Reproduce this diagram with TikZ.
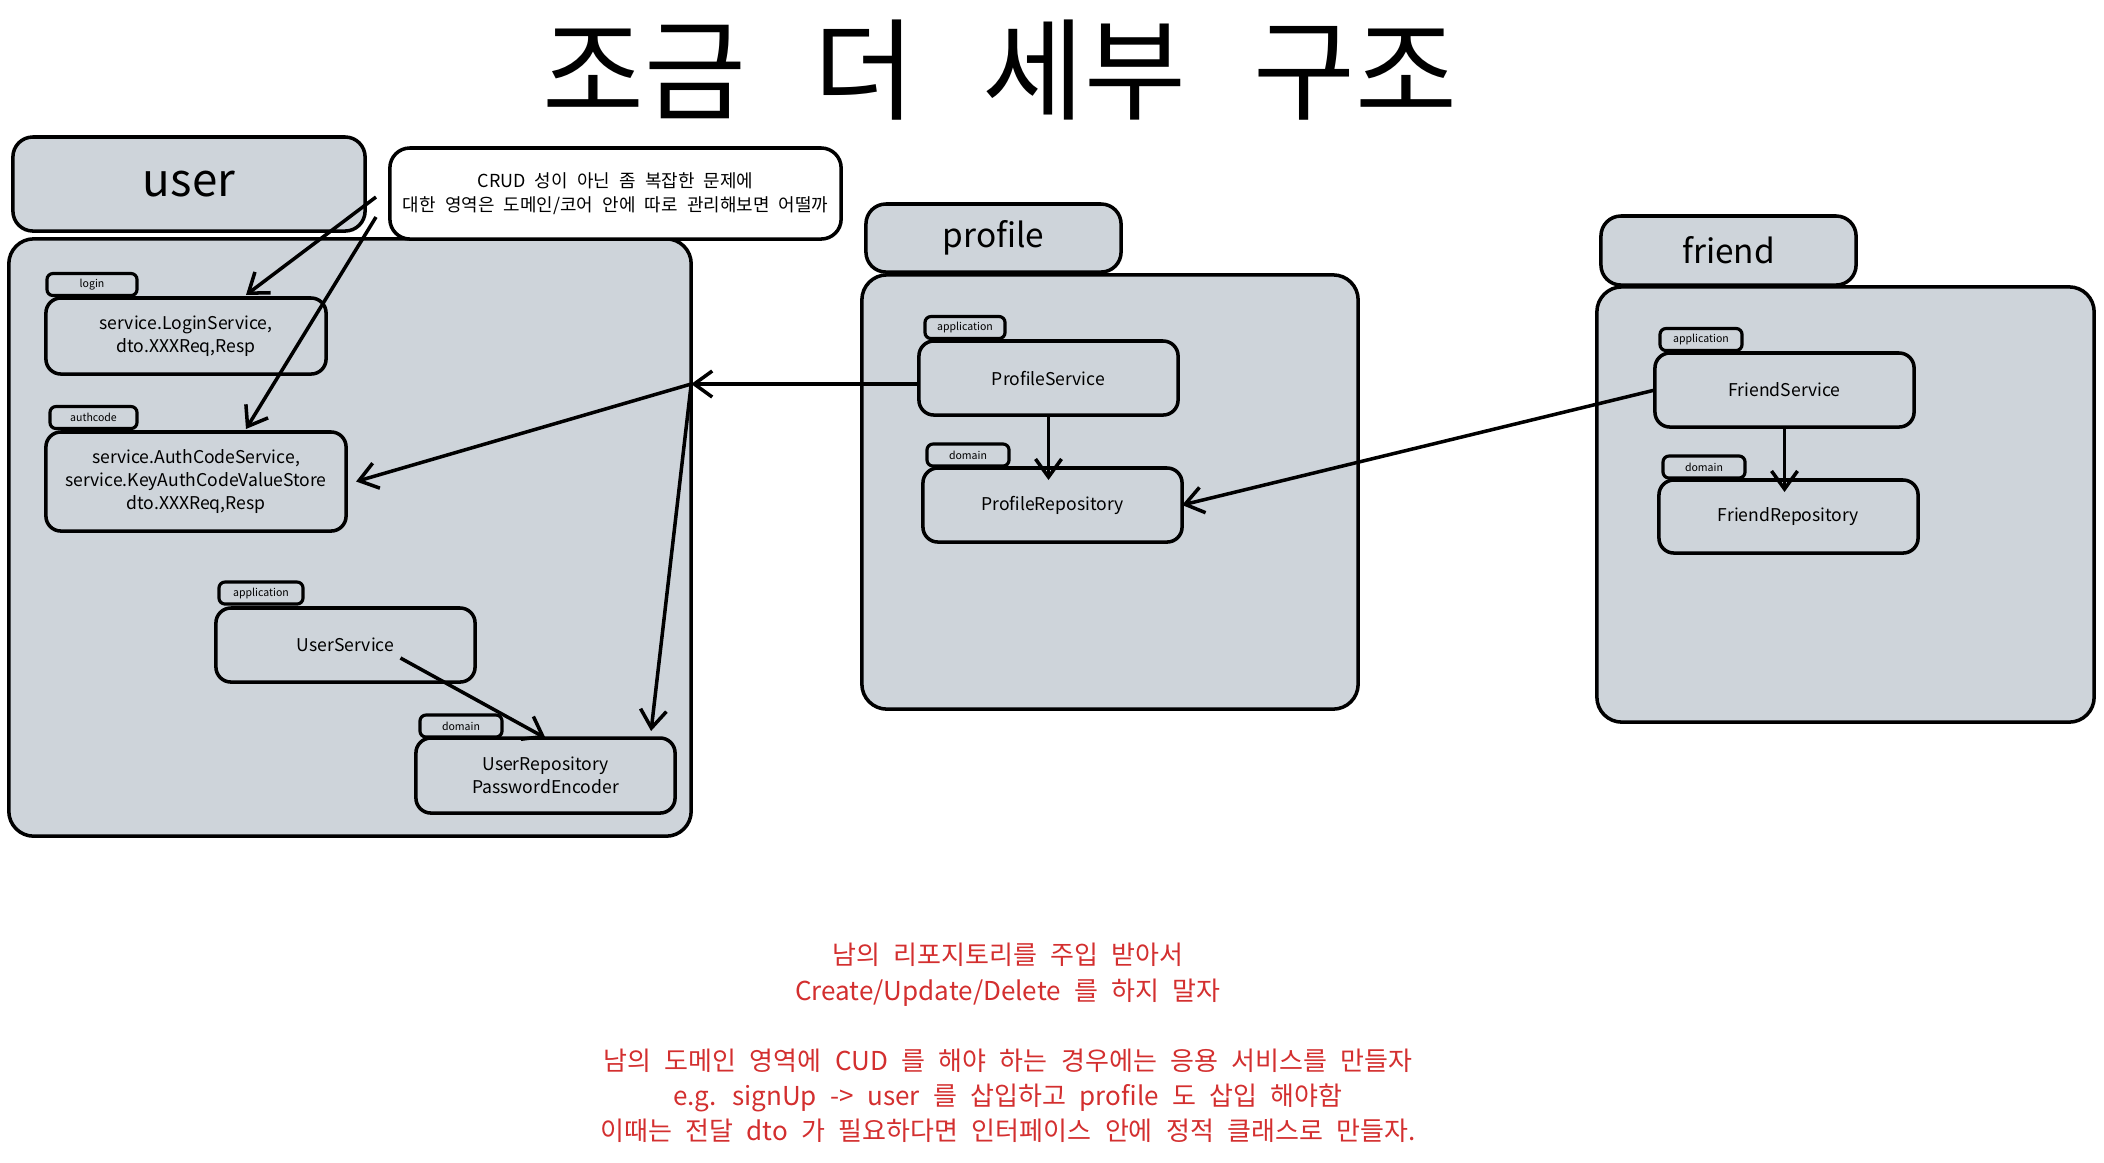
\documentclass[tikz,border=0pt]{standalone}
\usepackage{fontspec}
\setmainfont{Noto Sans CJK KR}[WordSpace=2.3]
\newfontfamily\titlefont{Noto Sans CJK KR}[WordSpace=2.7]
\usepackage{tikz}
\usetikzlibrary{arrows.meta,calc}
\definecolor{boxgray}{HTML}{CED4DA}
\definecolor{notered}{HTML}{D32F2F}

\begin{document}
\begin{tikzpicture}[x=0.01cm,y=-0.01cm,
    pkghead/.style={draw,fill=boxgray,line width=1pt,rounded corners=2mm,inner sep=0,outer sep=0},
    pkgbody/.style={draw,fill=boxgray,line width=1pt,rounded corners=2.5mm,inner sep=0,outer sep=0},
    layer/.style={draw,fill=boxgray,line width=1pt,rounded corners=1.5mm,inner sep=0,outer sep=0,
        minimum width=2.59cm,minimum height=0.74cm,align=center,font=\fontsize{5}{6.5}\selectfont},
    tab/.style={draw,fill=boxgray,line width=0.9pt,rounded corners=0.6mm,inner sep=0,outer sep=0,
        minimum width=0.82cm,minimum height=0.22cm,font=\fontsize{3}{3.5}\selectfont},
    link/.style={line width=1pt,-{Straight Barb[length=1.8mm,width=2.6mm]}}]

    \useasboundingbox (0,0) rectangle (2104,1162);

    \node[font=\titlefont\fontsize{31.5}{36}\selectfont] (title) at (1000,70) {조금 더 세부 구조};

    % user
    \node[pkghead,minimum width=3.52cm,minimum height=0.94cm,font=\fontsize{13}{15}\selectfont] (userhead) at (189,184) {user};
    \node[pkgbody,minimum width=6.82cm,minimum height=5.97cm] (userbody) at (350,537.5) {};
    \node[draw,fill=white,line width=1pt,rounded corners=2mm,inner sep=0,outer sep=0,
        minimum width=4.51cm,minimum height=0.91cm,align=center,font=\fontsize{5.1}{6.8}\selectfont] (note) at (615.5,193.5)
        {CRUD 성이 아닌 좀 복잡한 문제에\\대한 영역은 도메인/코어 안에 따로 관리해보면 어떨까};
    \node[tab,minimum width=0.90cm] (logintab) at (92,284.5) {login};
    \node[layer,minimum width=2.80cm,minimum height=0.76cm] (loginbox) at (186,336) {service.LoginService,\\dto.XXXReq,Resp};
    \node[tab,minimum width=0.87cm] (authtab) at (93.5,417.5) {authcode};
    \node[layer,minimum width=3.00cm,minimum height=0.99cm] (authbox) at (196,481.5)
        {service.AuthCodeService,\\service.KeyAuthCodeValueStore\\dto.XXXReq,Resp};
    \node[tab,minimum width=0.84cm] (usapptab) at (261,593) {application};
    \node[layer] (usersvc) at (345.5,645) {UserService};
    \node[tab] (usdomtab) at (461,726) {domain};
    \node[layer,minimum height=0.75cm] (userrepo) at (545.5,775.5) {UserRepository\\PasswordEncoder};

    % profile
    \node[pkghead,minimum width=2.55cm,minimum height=0.68cm,font=\fontsize{9.5}{11}\selectfont] (profhead) at (993.5,238) {profile};
    \node[pkgbody,minimum width=4.96cm,minimum height=4.34cm] (profbody) at (1110,492) {};
    \node[tab,minimum width=0.80cm] (pfapptab) at (965,327.5) {application};
    \node[layer] (profsvc) at (1048.5,378) {ProfileService};
    \node[tab] (pfdomtab) at (968,455) {domain};
    \node[layer] (profrepo) at (1052.5,505) {ProfileRepository};

    % friend
    \node[pkghead,minimum width=2.55cm,minimum height=0.69cm,font=\fontsize{9.5}{11}\selectfont] (frndhead) at (1728.5,250.5) {friend};
    \node[pkgbody,minimum width=4.97cm,minimum height=4.35cm] (frndbody) at (1845.5,504.5) {};
    \node[tab] (frapptab) at (1701,339.5) {application};
    \node[layer] (frndsvc) at (1784.5,390) {FriendService};
    \node[tab] (frdomtab) at (1704,467) {domain};
    \node[layer,minimum height=0.73cm] (frndrepo) at (1788.5,516.5) {FriendRepository};

    \node[text=notered,align=center,font=\fontsize{7.4}{10}\selectfont] (advice) at (1008,1043)
        {남의 리포지토리를 주입 받아서\\Create/Update/Delete 를 하지 말자\\[10pt]
         남의 도메인 영역에 CUD 를 해야 하는 경우에는 응용 서비스를 만들자\\
         e.g. signUp -> user 를 삽입하고 profile 도 삽입 해야함\\
         이때는 전달 dto 가 필요하다면 인터페이스 안에 정적 클래스로 만들자.};

    % connectors
    \coordinate (noteA) at (376,197);
    \coordinate (noteB) at (376,217);
    \coordinate (psout) at ($(profsvc.west)+(0,6)$);
    \coordinate (hub) at (userbody.east |- psout);
    \coordinate (usstart) at ($(usersvc.center)+(55,13)$);

    \draw[link] (noteA) -- ($(loginbox.north)+(60,-3)$);
    \draw[link] (noteB) -- ($(authbox.north)+(50,-3)$);
    \draw[link] (psout) -- (hub);
    \draw[link] (hub) -- ($(authbox.east)+(10,0)$);
    \draw[link] (hub) -- ($(userrepo.north east)+(-24,-7)$);
    \draw[link] (usstart) -- (userrepo.north);
    \draw[link] (profsvc.south) -- ($(profsvc.south |- profrepo.north)+(0,12)$);
    \draw[link] (frndsvc.south) -- ($(frndsvc.south |- frndrepo.north)+(0,12)$);
    \draw[link] (frndsvc.west) -- (profrepo.east);
\end{tikzpicture}
\end{document}
